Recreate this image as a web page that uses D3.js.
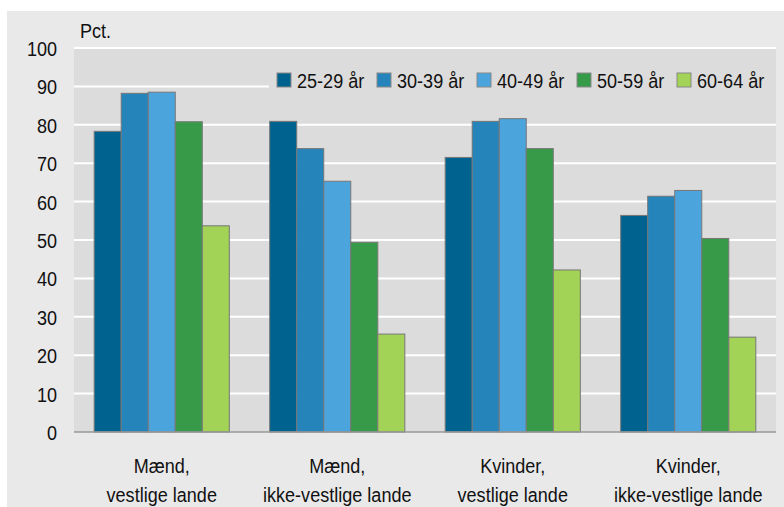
<!DOCTYPE html>
<html>
<head>
<meta charset="utf-8">
<script src="https://cdn.jsdelivr.net/npm/d3@7"></script>
<style>
  body { margin: 0; background: #fff; }
  svg text { font-family: "Liberation Sans", Arial, sans-serif; fill: #111; }
</style>
</head>
<body>
<div id="chart"></div>
<script>
var categories = [
    ["Mænd,", "vestlige lande"],
    ["Mænd,", "ikke-vestlige lande"],
    ["Kvinder,", "vestlige lande"],
    ["Kvinder,", "ikke-vestlige lande"]
];
var seriesNames = ["25-29 år", "30-39 år", "40-49 år", "50-59 år", "60-64 år"];
var seriesColors = ["#00628f", "#2585bb", "#4ba4dc", "#379a48", "#a2d256"];
// one array per age group, in category order
var age2529 = [78.3, 80.9, 71.5, 56.4];
var age3039 = [88.2, 73.8, 80.9, 61.4];
var age4049 = [88.5, 65.3, 81.6, 62.9];
var age5059 = [80.8, 49.4, 73.8, 50.4];
var age6064 = [53.7, 25.5, 42.2, 24.7];
var seriesValues = [age2529, age3039, age4049, age5059, age6064];
var yTicks = [0, 10, 20, 30, 40, 50, 60, 70, 80, 90, 100];

var W = 784, H = 507;
var margin = {top: 48, right: 8, bottom: 75, left: 74},
    width = W - margin.left - margin.right,
    height = H - margin.top - margin.bottom;

// the original uses a condensed face, so squeeze the text horizontally
var sx = 0.86;
var fontSize = "21px";

var svg = d3.select("#chart").append("svg")
    .attr("width", W)
    .attr("height", H);

// outer panel
svg.append("rect")
    .attr("x", 7).attr("y", 11)
    .attr("width", W - 7).attr("height", H - 11)
    .attr("fill", "#e9e9e9");

var g = svg.append("g")
    .attr("transform", "translate(" + margin.left + "," + margin.top + ")");

var x0 = d3.scaleBand()
    .domain(d3.range(categories.length))
    .range([0, width])
    .paddingInner(0.23)
    .paddingOuter(0.115);

var x1 = d3.scaleBand()
    .domain(d3.range(seriesNames.length))
    .range([0, x0.bandwidth()]);

var y = d3.scaleLinear().domain([0, 100]).range([height, 0]);

// plot background
g.append("rect")
    .attr("width", width).attr("height", height)
    .attr("fill", "#dcdcdc");

// gridlines
g.selectAll(".grid")
    .data(yTicks.filter(function(d) { return d > 0; }))
  .enter().append("line")
    .attr("x1", 0).attr("x2", width)
    .attr("y1", function(d) { return y(d); })
    .attr("y2", function(d) { return y(d); })
    .attr("stroke", "#fff")
    .attr("stroke-width", 2);

// y axis labels
var yAxis = g.append("g")
    .call(d3.axisLeft(y).tickValues(yTicks).tickSize(0).tickPadding(17));
yAxis.select(".domain").remove();
yAxis.selectAll("text")
    .style("font-size", fontSize)
    .attr("fill", "#111")
    .attr("dy", "0.36em")
    .attr("x", -17 / sx)
    .attr("transform", "scale(" + sx + ",1)");

g.append("text")
    .attr("transform", "translate(6,-10) scale(" + sx + ",1)")
    .style("font-size", fontSize)
    .text("Pct.");

// legend box covering gridline
var legend = g.append("g");
legend.append("rect")
    .attr("x", 195).attr("y", 6)
    .attr("width", width - 195).attr("height", 52)
    .attr("fill", "#dcdcdc");

var legItem = legend.selectAll(".leg")
    .data(seriesNames)
  .enter().append("g")
    .attr("transform", function(d, i) { return "translate(" + (203 + i * 100) + ",25)"; });
legItem.append("rect")
    .attr("width", 14).attr("height", 14)
    .attr("fill", function(d, i) { return seriesColors[i]; })
    .attr("stroke", "#888").attr("stroke-width", 1);
legItem.append("text")
    .attr("transform", "translate(20,7) scale(" + sx + ",1)")
    .attr("dy", "0.36em")
    .style("font-size", fontSize)
    .text(function(d) { return d; });

// bars
var groups = g.selectAll(".cat")
    .data(categories)
  .enter().append("g")
    .attr("transform", function(d, i) { return "translate(" + x0(i) + ",0)"; });

groups.selectAll("rect")
    .data(function(d, ci) { return seriesValues.map(function(s, si) { return {si: si, v: s[ci]}; }); })
  .enter().append("rect")
    .attr("x", function(d) { return x1(d.si); })
    .attr("width", x1.bandwidth())
    .attr("y", function(d) { return y(d.v); })
    .attr("height", function(d) { return height - y(d.v); })
    .attr("fill", function(d) { return seriesColors[d.si]; })
    .attr("stroke", "#777")
    .attr("stroke-width", 1);

// baseline
g.append("line")
    .attr("x1", 0).attr("x2", width)
    .attr("y1", height).attr("y2", height)
    .attr("stroke", "#999").attr("stroke-width", 1.5);

// category labels
var labels = g.selectAll(".catlab")
    .data(categories)
  .enter().append("text")
    .attr("text-anchor", "middle")
    .attr("transform", function(d, i) {
        return "translate(" + (x0(i) + x0.bandwidth() / 2) + "," + (height + 41) + ") scale(" + sx + ",1)";
    })
    .style("font-size", fontSize);
labels.selectAll("tspan")
    .data(function(d) { return d; })
  .enter().append("tspan")
    .attr("x", 0)
    .attr("dy", function(d, i) { return i === 0 ? 0 : 29; })
    .text(function(d) { return d; });
</script>
</body>
</html>
